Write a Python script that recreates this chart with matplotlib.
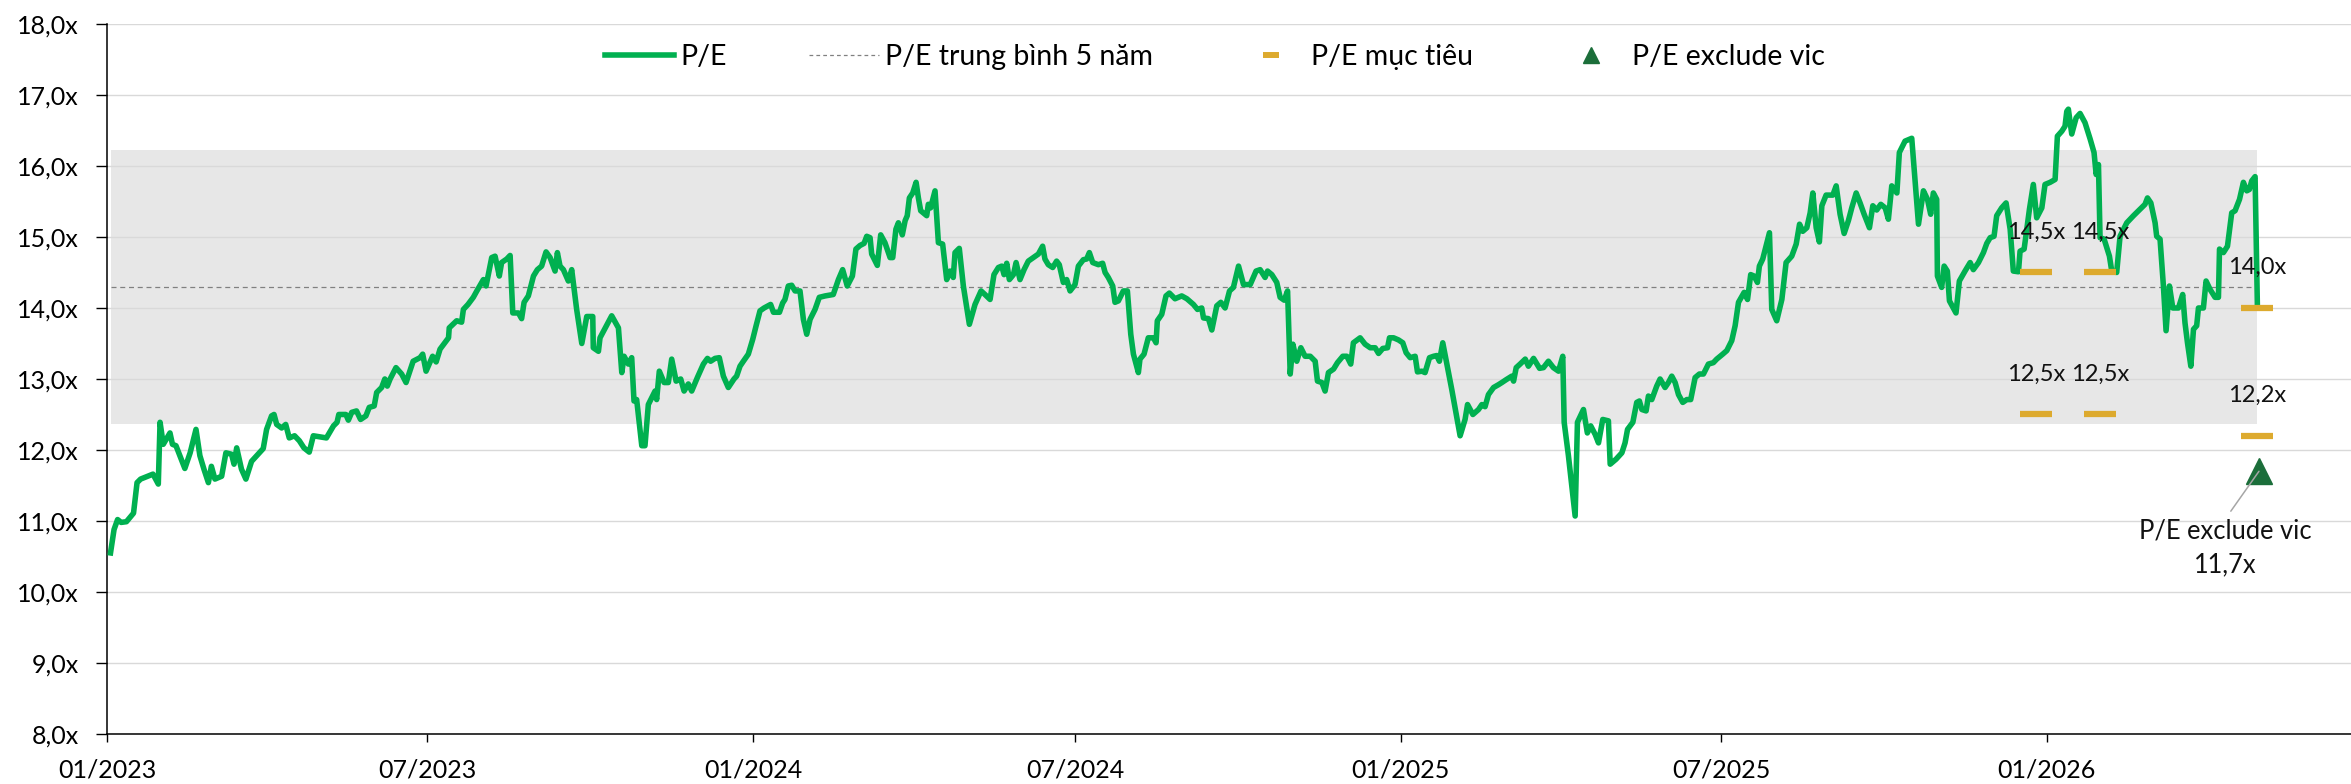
"""
P/E chart of the market index, 01/2023 - 04/2026, with 5-year mean band,
target P/E marks and the P/E excluding VIC.
"""

import matplotlib
matplotlib.use("Agg")
import matplotlib.pyplot as plt
import matplotlib.dates as mdates
from matplotlib.lines import Line2D
from matplotlib.ticker import FuncFormatter
import pandas as pd


# -----------------------------------------------------------------------------
# 1. DATA
# -----------------------------------------------------------------------------
START = "2023-01-01"

# days since START for each P/E observation
pe_day = [
    2, 4, 6, 8, 11, 15, 17, 19, 26, 29,
    30, 31.8, 35.6, 37, 39, 44, 47, 50.3, 52.5, 54.8,
    57.3, 59, 61, 64.8, 67.2, 70.4, 71.8, 73.3, 76, 78.5,
    81.7, 84.6, 88.3, 90.2, 93, 94.4, 95.9, 98.7, 101, 103,
    106, 108.7, 111.3, 114.3, 116.6, 124, 128, 130, 131, 135,
    136.4, 138.3, 141, 143.3, 146.3, 148.2, 151, 152.4, 155.2, 157,
    158.4, 160, 163.3, 166.5, 169, 173, 176.9, 178.4, 180.3, 184,
    186, 188.2, 193, 193.4, 197.6, 200.4, 201.4, 204, 207, 209,
    212.7, 214.2, 217.4, 219.3, 221.7, 223, 225.9, 227.8, 229.3, 232.5,
    234.3, 235.7, 238.1, 241, 243.2, 245.6, 248.1, 250.4, 253.2, 254.5,
    256, 257.9, 260.7, 262.6, 265.4, 268.3, 271.1, 274.5, 274.8, 277.7,
    278.6, 282, 285.2, 289, 290.9, 292.2, 294.6, 296.5, 297.8, 299.3,
    302.2, 304, 305.9, 309.7, 310.6, 312.1, 314.8, 317.2, 319.1, 321.6,
    324.2, 326.1, 328.5, 330.4, 333.6, 337, 339.3, 341.1, 343.6, 346,
    348.3, 351.1, 354.3, 355.8, 357.7, 359.6, 362.4, 364.9, 366.8, 369,
    371.3, 375, 376.6, 380, 381.8, 383.1, 385, 386.9, 388.8, 391.6,
    393.5, 395.4, 397.3, 400.1, 402.5, 405.8, 410.4, 413.3, 415.7, 418.3,
    421.2, 423.2, 425.5, 427.8, 429.3, 431.2, 432.1, 435.3, 437.2, 439.6,
    442.5, 444, 445.8, 447.2, 449.4, 451, 452.2, 453.4, 455.3, 457.2,
    458.5, 459.8, 463.2, 464.1, 465.4, 467.9, 469.8, 472.2, 474.5, 476.4,
    478.2, 479.2, 481.6, 483.9, 487.3, 490.5, 493.9, 496.1, 499, 501.2,
    503.7, 505.6, 506.9, 508.4, 509.9, 512.2, 513.7, 515.9, 518.2, 520.6,
    523.4, 526.3, 528.7, 530, 531.9, 534.4, 536.6, 538.1, 540.4, 542.3,
    544.2, 547, 548.9, 551.7, 553.6, 555.1, 557, 560.2, 562.6, 564,
    565.8, 568.3, 569.6, 571.5, 574.3, 576.6, 578.5, 580, 582.8, 583.7,
    586, 588.4, 591.3, 592.8, 593.5, 596, 598.4, 600.3, 603.5, 607.3,
    610.2, 613.9, 616.2, 618.6, 619.6, 622.4, 624.3, 627.1, 629.4, 631.8,
    634.3, 636.5, 639.4, 642.2, 646, 649.3, 651.6, 654.4, 655.8, 658.2,
    661, 662.9, 665.2, 667.1, 668.6, 670.1, 672.3, 674.6, 677, 679.9,
    682.7, 684, 686.5, 688.3, 690.2, 693.1, 695.3, 698.3, 700.6, 702.8,
    704.3, 708.1, 710.9, 713.8, 716.6, 718.5, 720.9, 723.6, 724.7, 727,
    729.8, 732.2, 734.1, 736.4, 739.2, 740.5, 743, 744.8, 747.3, 749.6,
    751.4, 752.9, 754.8, 759.9, 764.6, 767.4, 768.8, 771.8, 775, 776.9,
    778.7, 780.6, 783.5, 786.3, 788.2, 790.6, 793.8, 794.8, 796.3, 798.5,
    801.4, 803.2, 806.1, 809.5, 811.7, 814.5, 817.3, 820.2, 822.6, 823.4,
    825.8, 827.7, 829.6, 830.9, 834.3, 836.5, 838.4, 840.9, 842.8, 845.2,
    848.4, 849.4, 852.7, 856, 857.8, 859.2, 862.2, 864.4, 865.9, 867.3,
    869.7, 871, 872.9, 875.7, 877.6, 880.4, 882.3, 884.2, 886.1, 888,
    890.4, 892.7, 894.9, 897.4, 899.8, 902.1, 904.9, 907.7, 909.6, 913,
    915.3, 918.1, 920, 921.9, 925.1, 927, 928.8, 930.7, 932.6, 933.7,
    935.6, 939.4, 940.7, 943.5, 946.4, 948.8, 952, 954.5, 956.4, 958.2,
    960.5, 962.4, 963.9, 965.8, 967.6, 969, 971.4, 975.2, 977.1, 979.3,
    981.6, 984, 985.9, 988.4, 990.6, 992.9, 995.9, 997.8, 1000, 1002.3,
    1004.8, 1006.6, 1008.5, 1011.4, 1012.8, 1016, 1019.8, 1023.6, 1026.4, 1028.7,
    1030.5, 1032, 1033.9, 1034.3, 1036.7, 1038.1, 1039.9, 1041.1, 1044.8, 1046.7,
    1049.9, 1052.8, 1054.6, 1057.5, 1060.3, 1062.2, 1064.1, 1066.3, 1067.8, 1070.6,
    1073.1, 1075.4, 1077.2, 1080.1, 1081, 1083.3, 1086.3, 1088.5, 1090.4, 1093.3,
    1095.1, 1098, 1100.8, 1102.1, 1104.6, 1106.4, 1107.4, 1108.3, 1110.2, 1112.7,
    1114.9, 1117.7, 1120.6, 1122.8, 1124, 1125.3, 1126.2, 1128.5, 1131.5, 1132.8,
    1135.6, 1137.5, 1141.3, 1145.1, 1148.8, 1151.6, 1153, 1154.9, 1157.3, 1158.2,
    1160.1, 1162, 1163.5, 1165.4, 1167.3, 1170.5, 1172.9, 1174.2, 1175.6, 1177.5,
    1179, 1180.8, 1181.8, 1184.6, 1186.1, 1188.4, 1191.2, 1193.1, 1193.7, 1195.9,
    1198.2, 1200.6, 1202.5, 1205, 1207.2, 1209.1, 1210.6, 1211.9, 1213.8, 1215.1,
]

pe_value = [
    10.55, 10.88, 11.02, 10.98, 10.99, 11.11, 11.54, 11.59, 11.66, 11.52,
    12.39, 12.08, 12.24, 12.08, 12.06, 11.74, 11.96, 12.29, 11.92, 11.73,
    11.54, 11.77, 11.59, 11.63, 11.96, 11.94, 11.80, 12.03, 11.73, 11.59,
    11.84, 11.92, 12.02, 12.29, 12.48, 12.50, 12.36, 12.31, 12.36, 12.17,
    12.20, 12.13, 12.03, 11.97, 12.20, 12.17, 12.34, 12.39, 12.50, 12.50,
    12.42, 12.53, 12.55, 12.43, 12.48, 12.60, 12.62, 12.81, 12.88, 13.00,
    12.90, 13.00, 13.16, 13.07, 12.95, 13.25, 13.30, 13.35, 13.11, 13.32,
    13.24, 13.42, 13.58, 13.72, 13.82, 13.80, 13.98, 14.05, 14.15, 14.24,
    14.40, 14.31, 14.71, 14.73, 14.45, 14.64, 14.69, 14.74, 13.93, 13.93,
    13.85, 14.08, 14.17, 14.45, 14.54, 14.59, 14.79, 14.71, 14.52, 14.78,
    14.59, 14.54, 14.38, 14.54, 13.98, 13.50, 13.88, 13.88, 13.44, 13.39,
    13.58, 13.74, 13.89, 13.72, 13.09, 13.32, 13.21, 13.30, 12.69, 12.71,
    12.06, 12.06, 12.64, 12.83, 12.71, 13.11, 12.95, 12.95, 13.28, 12.97,
    13.00, 12.83, 12.93, 12.83, 13.02, 13.21, 13.29, 13.25, 13.29, 13.30,
    13.04, 12.88, 13.00, 13.04, 13.18, 13.25, 13.35, 13.56, 13.75, 13.96,
    14.00, 14.05, 13.94, 13.94, 14.07, 14.12, 14.31, 14.32, 14.24, 14.24,
    13.84, 13.63, 13.84, 13.98, 14.15, 14.17, 14.19, 14.40, 14.54, 14.31,
    14.45, 14.83, 14.88, 14.91, 15.01, 14.99, 14.76, 14.60, 15.03, 14.92,
    14.71, 14.71, 15.11, 15.20, 15.03, 15.23, 15.30, 15.55, 15.62, 15.77,
    15.55, 15.37, 15.30, 15.46, 15.41, 15.65, 14.92, 14.90, 14.40, 14.52,
    14.43, 14.78, 14.84, 14.31, 13.77, 14.05, 14.24, 14.19, 14.12, 14.47,
    14.57, 14.59, 14.47, 14.63, 14.40, 14.47, 14.64, 14.40, 14.54, 14.66,
    14.71, 14.76, 14.87, 14.69, 14.61, 14.57, 14.66, 14.61, 14.36, 14.40,
    14.24, 14.33, 14.59, 14.68, 14.69, 14.78, 14.64, 14.61, 14.63, 14.50,
    14.43, 14.31, 14.08, 14.10, 14.24, 14.24, 13.63, 13.35, 13.09, 13.28,
    13.35, 13.58, 13.58, 13.51, 13.82, 13.91, 14.17, 14.21, 14.13, 14.17,
    14.13, 14.05, 13.98, 14.00, 13.86, 13.85, 13.69, 14.03, 14.08, 14.00,
    14.24, 14.29, 14.59, 14.33, 14.33, 14.52, 14.54, 14.43, 14.52, 14.47,
    14.36, 14.15, 14.11, 14.24, 13.07, 13.49, 13.25, 13.44, 13.32, 13.32,
    13.25, 12.97, 12.95, 12.83, 13.09, 13.14, 13.23, 13.32, 13.32, 13.21,
    13.51, 13.58, 13.49, 13.44, 13.44, 13.36, 13.43, 13.44, 13.58, 13.58,
    13.55, 13.51, 13.37, 13.30, 13.32, 13.10, 13.11, 13.09, 13.30, 13.32,
    13.33, 13.25, 13.51, 12.85, 12.20, 12.43, 12.64, 12.50, 12.57, 12.64,
    12.61, 12.78, 12.88, 12.92, 12.95, 12.99, 13.04, 12.97, 13.16, 13.21,
    13.28, 13.18, 13.29, 13.15, 13.16, 13.25, 13.16, 13.11, 13.32, 12.39,
    11.92, 11.49, 11.07, 12.39, 12.57, 12.24, 12.34, 12.22, 12.10, 12.43,
    12.41, 11.80, 11.87, 11.96, 12.10, 12.29, 12.39, 12.67, 12.69, 12.57,
    12.55, 12.76, 12.71, 12.90, 13.00, 12.88, 12.95, 13.04, 12.95, 12.78,
    12.67, 12.71, 12.71, 13.02, 13.07, 13.07, 13.21, 13.23, 13.28, 13.35,
    13.40, 13.54, 13.75, 14.08, 14.22, 14.12, 14.47, 14.45, 14.36, 14.59,
    14.69, 15.06, 13.98, 13.82, 14.12, 14.64, 14.73, 14.90, 15.18, 15.08,
    15.13, 15.34, 15.62, 15.13, 14.93, 15.44, 15.59, 15.59, 15.72, 15.32,
    15.05, 15.23, 15.41, 15.62, 15.48, 15.32, 15.13, 15.44, 15.38, 15.46,
    15.41, 15.25, 15.72, 15.62, 16.19, 16.35, 16.39, 15.18, 15.65, 15.53,
    15.32, 15.62, 15.53, 14.45, 14.29, 14.59, 14.52, 14.10, 13.93, 14.38,
    14.52, 14.64, 14.54, 14.64, 14.78, 14.91, 14.99, 15.01, 15.30, 15.41,
    15.48, 15.11, 14.52, 14.51, 14.80, 14.83, 15.39, 15.74, 15.27, 15.41,
    15.74, 15.77, 15.81, 16.42, 16.49, 16.56, 16.77, 16.80, 16.45, 16.68,
    16.74, 16.61, 16.38, 16.19, 15.88, 16.02, 14.99, 14.97, 14.73, 14.52,
    14.50, 15.01, 15.20, 15.30, 15.39, 15.46, 15.55, 15.48, 15.20, 15.01,
    14.97, 14.31, 13.68, 14.31, 14.00, 14.00, 14.19, 13.79, 13.51, 13.18,
    13.70, 13.75, 14.00, 14.00, 14.38, 14.26, 14.15, 14.15, 14.83, 14.78,
    14.87, 15.34, 15.37, 15.53, 15.77, 15.65, 15.67, 15.79, 15.85, 14.03,
]

pe_mean_5y = 14.30
pe_band_low = 12.37
pe_band_high = 16.23

target_dates = ["2025-12-26", "2026-01-31", "2026-04-30"]
target_high = [14.5, 14.5, 14.0]
target_low = [12.5, 12.5, 12.2]

excl_vic_date = "2026-05-01"
excl_vic_value = 11.7

x_end = "2026-06-22"
legend_labels = ["P/E", "P/E trung bình 5 năm", "P/E mục tiêu", "P/E exclude vic"]

# colours
GREEN = "#00B050"
DARK_GREEN = "#1B6E3A"
GOLD = "#DDAA2E"
BAND = "#E7E7E7"
GRID = "#D9D9D9"
MEAN_GREY = "#808080"


def fmt_x(v):
    return f"{v:.1f}x".replace(".", ",")


# -----------------------------------------------------------------------------
# 2. CHART
# -----------------------------------------------------------------------------
def main():
    plt.rcParams["font.family"] = ["Lato", "Open Sans", "DejaVu Sans"]

    dates = pd.Timestamp(START) + pd.to_timedelta(pe_day, unit="D")
    t_dates = pd.to_datetime(target_dates)
    span = [dates[0], dates[-1]]

    fig = plt.figure(figsize=(23.51, 7.84), dpi=100)
    ax = fig.add_axes([0.0455, 0.0638, 0.9545, 0.9056])

    # mean +/- 1 std band and the mean line
    ax.fill_between(span, pe_band_low, pe_band_high, color=BAND, lw=0,
                    zorder=0.2)
    ax.plot(span, [pe_mean_5y, pe_mean_5y], color=MEAN_GREY, lw=0.9,
            ls=(0, (4, 3)), zorder=1)

    # P/E line
    ax.plot(dates, pe_value, color=GREEN, lw=4.0, solid_joinstyle="round",
            zorder=3)

    # target P/E marks + labels
    for vals in (target_high, target_low):
        ax.plot(t_dates, vals, ls="none", marker="_", ms=22.8, mew=4.5,
                color=GOLD, zorder=4)
        for d, v in zip(t_dates, vals):
            ax.annotate(fmt_x(v), xy=(d, v), xytext=(0, 29),
                        textcoords="offset points", ha="center", va="center",
                        fontsize=17, color="#111111", zorder=6)

    # P/E excluding VIC
    ev_date = pd.Timestamp(excl_vic_date)
    ax.plot([ev_date], [excl_vic_value], ls="none", marker="^", ms=19.4,
            color=DARK_GREEN, zorder=5)
    ax.annotate(f"P/E exclude vic\n{fmt_x(excl_vic_value)}",
                xy=(ev_date, excl_vic_value), xytext=(-24, -34),
                textcoords="offset points", ha="center", va="top",
                fontsize=18.4, linespacing=1.45, color="#111111",
                arrowprops=dict(arrowstyle="-", color="#A6A6A6", lw=1.1,
                                shrinkA=4, shrinkB=0, relpos=(0.5, 1.0)),
                zorder=6)

    # axes
    ax.set_xlim(pd.Timestamp(START), pd.Timestamp(x_end))
    ax.set_ylim(8, 18)
    ax.set_yticks(range(8, 19))
    ax.yaxis.set_major_formatter(FuncFormatter(lambda v, p: fmt_x(v)))
    ax.set_xticks(pd.date_range(START, "2026-01-01", freq="6MS"))
    ax.xaxis.set_major_formatter(mdates.DateFormatter("%m/%Y"))

    ax.yaxis.grid(True, color=GRID, lw=1.0)
    ax.set_axisbelow(True)
    for side in ("top", "right"):
        ax.spines[side].set_visible(False)
    for side in ("left", "bottom"):
        ax.spines[side].set_color("black")
        ax.spines[side].set_linewidth(1.1)
    ax.tick_params(axis="y", length=8, width=1, pad=12, labelsize=18)
    ax.tick_params(axis="x", length=6, width=1, pad=12, labelsize=18)

    # legend
    handles = [
        Line2D([], [], color=GREEN, lw=4.0),
        Line2D([], [], color=MEAN_GREY, lw=0.9, ls=(0, (3, 2.5))),
        Line2D([], [], ls="none", marker="_", ms=12.2, mew=4.3, color=GOLD),
        Line2D([], [], ls="none", marker="^", ms=12.2, color=DARK_GREEN),
    ]
    fig.legend(handles, legend_labels, loc="center",
               bbox_to_anchor=(0.5166, 0.9273), ncol=4, frameon=False,
               fontsize=20.5, handlelength=2.45, handletextpad=0.21,
               columnspacing=2.9, borderaxespad=0)

    fig.savefig("out.png", dpi=100)
    plt.close(fig)


if __name__ == "__main__":
    main()
